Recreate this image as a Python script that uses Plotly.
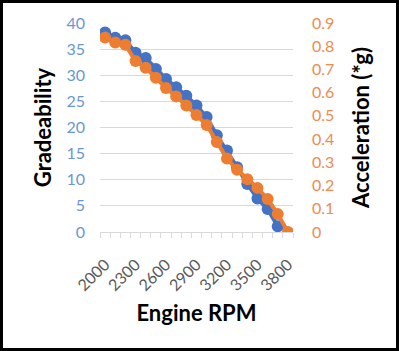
import plotly.graph_objects as go

rpm = [2000, 2100, 2200, 2300, 2400, 2500, 2600, 2700, 2800, 2900,
       3000, 3100, 3200, 3300, 3400, 3500, 3600, 3700, 3800]
gradeability = [38.2, 37.2, 36.7, 34.3, 33.3, 31.2, 29.3, 27.7, 26.1, 24.2,
                22.0, 18.5, 15.6, 12.4, 9.2, 6.4, 4.4, 1.1]
acceleration = [0.838, 0.816, 0.806, 0.736, 0.707, 0.664, 0.620, 0.584, 0.545, 0.504,
                0.461, 0.388, 0.316, 0.268, 0.227, 0.190, 0.142, 0.077, 0.0]
x_ticks = [2000, 2300, 2600, 2900, 3200, 3500, 3800]
left_ticks = [0, 5, 10, 15, 20, 25, 30, 35, 40]
right_ticks = [0, 0.1, 0.2, 0.3, 0.4, 0.5, 0.6, 0.7, 0.8, 0.9]

BLUE = "#4472C4"
ORANGE = "#ED7D31"
W, H = 399, 351
ML, MR, MT, MB = 100, 106, 23, 119
FONT = "Lato"

fig = go.Figure()
fig.add_trace(go.Scatter(
    x=rpm[:len(gradeability)], y=gradeability, mode="lines+markers",
    line=dict(color=BLUE, width=4), marker=dict(color=BLUE, size=12),
    yaxis="y", showlegend=False))
fig.add_trace(go.Scatter(
    x=rpm, y=acceleration, mode="lines+markers",
    line=dict(color=ORANGE, width=4), marker=dict(color=ORANGE, size=12),
    yaxis="y2", showlegend=False))

pw = W - ML - MR
ph = H - MT - MB
def px_to_paper_x(px):
    return (px - ML) / pw
def px_to_paper_y(py):
    return (H - MB - py) / ph

fig.update_layout(
    width=W, height=H,
    margin=dict(l=ML, r=MR, t=MT, b=MB),
    paper_bgcolor="white", plot_bgcolor="white",
    font=dict(family=FONT),
    xaxis=dict(
        range=[rpm[0] - 50, rpm[-1] + 50],
        tickmode="array", tickvals=x_ticks, ticktext=[str(v) for v in x_ticks],
        tickangle=-45, tickfont=dict(size=16, color="#595959", family=FONT),
        ticks="", showgrid=False, zeroline=False, ticklabelstandoff=16,
        showline=True, linecolor="#d9d9d9", linewidth=1,
        minor=dict(ticks="outside", ticklen=5, tickcolor="#d9d9d9",
                   tick0=rpm[0] - 50, dtick=100, showgrid=False),
        title=dict(text="<b>Engine RPM</b>", font=dict(size=22, color="black", family=FONT),
                   standoff=12),
    ),
    yaxis=dict(
        range=[0, 40], tickmode="array", tickvals=left_ticks,
        tickfont=dict(size=16, color="#6A97D3", family=FONT),
        showgrid=True, gridcolor="#d9d9d9", gridwidth=1, zeroline=False,
        ticks="", ticklabelstandoff=14,
        title=dict(text="<b>Gradeability</b>", font=dict(size=22, color="black", family=FONT),
                   standoff=8),
    ),
    yaxis2=dict(
        range=[0, 0.9], tickmode="array", tickvals=right_ticks,
        ticktext=["0"] + [f"{v:.1f}" for v in right_ticks[1:]],
        overlaying="y", side="right",
        tickfont=dict(size=16, color="#EE8B4F", family=FONT),
        showgrid=False, zeroline=False, ticks="", ticklabelstandoff=18,
        title=dict(text="<b>Acceleration (*g)</b>", font=dict(size=22, color="black", family=FONT),
                   standoff=20),
    ),
    shapes=[dict(type="rect", xref="paper", yref="paper",
                 x0=px_to_paper_x(1.5), x1=px_to_paper_x(W - 1.5),
                 y0=px_to_paper_y(H - 1.5), y1=px_to_paper_y(1.5),
                 line=dict(color="black", width=3), fillcolor="rgba(0,0,0,0)",
                 layer="above")],
)

fig.write_html("out.html")
